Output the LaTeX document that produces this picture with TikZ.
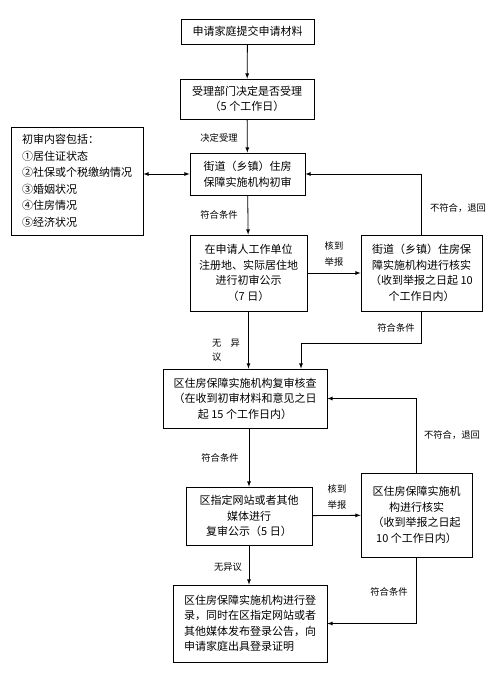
\documentclass[tikz,border=0pt]{standalone}
\usepackage{fontspec}
\newfontfamily\cjk{Noto Sans CJK SC}
\tikzset{
    box/.style = {draw, line width = 0.8pt, align = center, inner sep = 2pt,
                  font = \cjk\fontsize{11}{15.5}\selectfont},
    lbl/.style = {align = left, inner sep = 1pt, font = \cjk\fontsize{9.3}{15.5}\selectfont},
    arr/.style = {-latex, line width = 0.8pt}
}
\begin{document}
\begin{tikzpicture}[x = 1pt, y = -1pt]

            \useasboundingbox (0, 0) rectangle (500, 674);

            \node (apply) at (247.5, 31.5) [box, minimum width = 133pt, minimum height = 25pt] {申请家庭提交申请材料};
            \node (accept) at (247, 99) [box, minimum width = 134pt, minimum height = 40pt] {受理部门决定是否受理\\（5 个工作日）};
            \node (first) at (247.5, 174) [box, minimum width = 115pt, minimum height = 42pt] {街道（乡镇）住房\\保障实施机构初审};
            \node (items) at (77, 181) [box, minimum width = 132pt, minimum height = 108pt, align = left,
                font = \cjk\fontsize{11}{16.5}\selectfont] {初审内容包括：\\①居住证状态\\②社保或个税缴纳情况\\③婚姻状况\\④住房情况\\⑤经济状况};
            \node (pub1) at (248.5, 273) [box, minimum width = 117pt, minimum height = 76pt] {在申请人工作单位\\注册地、实际居住地\\进行初审公示\\（7 日）};
            \node (check1) at (421.5, 273) [box, minimum width = 121pt, minimum height = 76pt] {街道（乡镇）住房保\\障实施机构进行核实\\（收到举报之日起 10\\个工作日内）};
            \node (review) at (245, 398.5) [box, minimum width = 164pt, minimum height = 59pt] {区住房保障实施机构复审核查\\（在收到初审材料和意见之日\\起 15 个工作日内）};
            \node (pub2) at (249, 516) [box, minimum width = 126pt, minimum height = 58pt] {区指定网站或者其他\\媒体进行\\复审公示（5 日）};
            \node (check2) at (416.5, 515) [box, minimum width = 111pt, minimum height = 84pt] {区住房保障实施机\\构进行核实\\（收到举报之日起\\10 个工作日内）};
            \node (reg) at (250, 623.5) [box, minimum width = 154pt, minimum height = 77pt, align = left] {区住房保障实施机构进行登\\录，同时在区指定网站或者\\其他媒体发布登录公告，向\\申请家庭出具登录证明};

            \coordinate (j1) at (301, 343);

            \draw[arr] (apply) -- (accept);
            \draw[arr] (accept) -- (first);
            \draw[latex-latex, line width = 0.8pt] (first.west -| items.east) -- (first.west);
            \draw[arr] (first) -- (pub1);
            \draw[arr] (pub1) -- (check1);
            \draw[arr] (check1.north) |- (first.east);
            \draw[arr] (pub1.south) -- (pub1.south |- review.north);
            \draw[arr] (check1.south) |- (j1) -- (j1 |- review.north);
            \draw[arr] (pub2.north |- review.south) -- (pub2.north);
            \draw[arr] (check2.north) |- (review.east);
            \draw[arr] (pub2) -- (check2);
            \draw[arr] (pub2.south) -- (pub2.south |- reg.north);
            \draw[arr] (check2.south) |- (reg.east);

            \node (l1) at (219, 138) [lbl] {决定受理};
            \node (l2) at (219, 215) [lbl] {符合条件};
            \node (l3) at (458, 208) [lbl] {不符合，退回};
            \node (l4) at (334, 254) [lbl] {核到\\举报};
            \node (l5) at (396, 328) [lbl] {符合条件};
            \node (l6) at (226, 350) [lbl, font = \cjk\fontsize{9.3}{14}\selectfont] {无\quad 异\\议};
            \node (l7) at (452, 435) [lbl] {不符合，退回};
            \node (l8) at (220, 458) [lbl] {符合条件};
            \node (l9) at (337, 497) [lbl] {核到\\举报};
            \node (l10) at (228, 567) [lbl] {无异议};
            \node (l11) at (389, 592) [lbl] {符合条件};
        \end{tikzpicture}
\end{document}
